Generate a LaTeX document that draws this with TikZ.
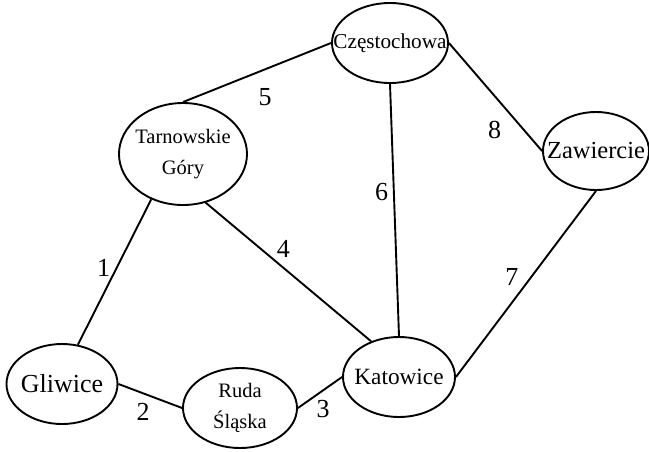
\documentclass[tikz,border=0pt]{standalone}
\usepackage{fontspec}
\setmainfont{Liberation Serif}
\usetikzlibrary{shapes.geometric}
\begin{document}
\begin{tikzpicture}[x=0.5pt,y=-0.5pt,line width=0.95pt]
        \useasboundingbox (0,0) rectangle (649,451);

        \begin{scope}[every node/.style={ellipse,draw,inner xsep=-8pt,inner ysep=0pt,align=center,
            minimum width=55pt,minimum height=40pt}]
          \node[font=\fontsize{13}{15}\selectfont,minimum width=55.5pt] (gliwice) at (62,384) {Gliwice};
          \node[font=\fontsize{10.25}{15.5}\selectfont,minimum width=57pt] (ruda) at (240,408) {Ruda\\Śląska};
          \node[font=\fontsize{11.65}{14}\selectfont,minimum width=56pt] (katowice) at (399,377) {Katowice};
          \node[font=\fontsize{10.25}{15.5}\selectfont,minimum width=64pt,minimum height=51pt] (tarnowskie) at (183,154) {Tarnowskie\\Góry};
          \node[font=\fontsize{10.6}{13}\selectfont,minimum width=58pt] (czestochowa) at (390,43) {Częstochowa};
          \node[font=\fontsize{12.25}{14}\selectfont,minimum width=53pt,minimum height=39pt] (zawiercie) at (596,151) {Zawiercie};
        \end{scope}

        \begin{scope}[every node/.style={font=\fontsize{13}{15}\selectfont}]
          \begin{scope}[every edge/.style={draw,line width=0.95pt}]
            \path (gliwice.68)      edge node[xshift=-5.5pt,yshift=2pt]   {1} (tarnowskie.235);
            \path (gliwice.east)    edge node[xshift=-3.5pt,yshift=-8pt]  {2} (ruda.west);
            \path (ruda.east)       edge node[xshift=1.5pt,yshift=-8.5pt] {3} (katowice.west);
            \path (tarnowskie.295)  edge node[xshift=-2.5pt,yshift=11.5pt] {4} (katowice.128);
            \path (tarnowskie.north) edge node[xshift=4pt,yshift=-12.5pt] {5} (czestochowa.west);
            \path (czestochowa.south) edge node[xshift=-6.5pt,yshift=9pt] {6} (katowice.north);
            \path (katowice.east)   edge node[xshift=-7pt,yshift=3.5pt]   {7} (zawiercie.south);
            \path (czestochowa.east) edge node[xshift=-0.5pt,yshift=-16.5pt] {8} (zawiercie.west);
          \end{scope}
        \end{scope}

      \end{tikzpicture}
\end{document}
